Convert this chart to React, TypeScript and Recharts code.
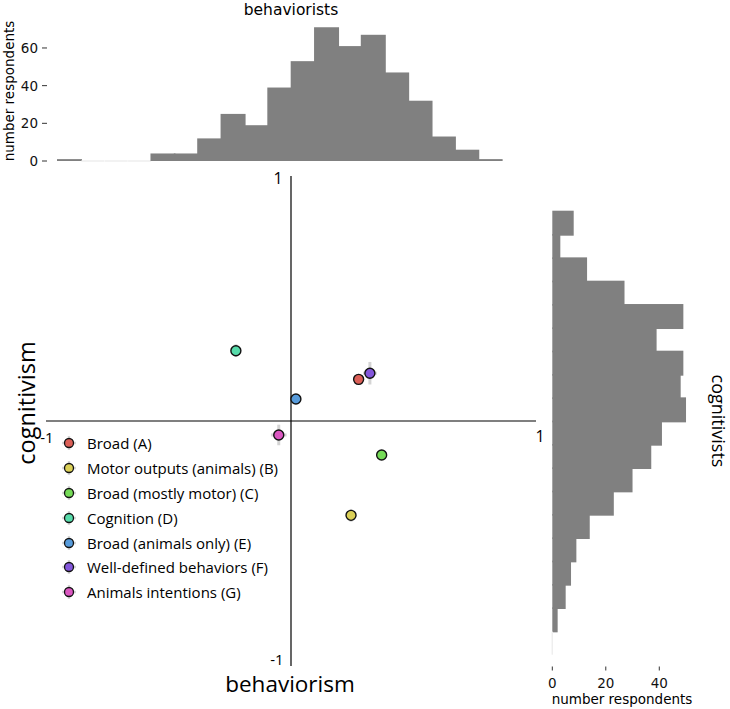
import React from "react";
import {
  BarChart,
  Bar,
  XAxis,
  YAxis,
  ScatterChart,
  Scatter,
  ErrorBar,
  ReferenceLine,
  Legend,
} from "recharts";

const W = 730;
const H = 709;

// histogram bins, centres on the -1..1 scale (left to right / top to bottom)
const behaviorBins = [
  "-0.90", "-0.81", "-0.71", "-0.62", "-0.52", "-0.43", "-0.33", "-0.24", "-0.14", "-0.05",
  "0.05", "0.14", "0.24", "0.33", "0.43", "0.52", "0.62", "0.71", "0.81",
];
const behaviorCounts = [1, 0, 0, 0, 4, 4, 12, 25, 19, 39, 53, 71, 61, 67, 47, 32, 13, 6, 1];

const cognitiveBins = [
  "0.81", "0.71", "0.62", "0.52", "0.43", "0.33", "0.24", "0.14", "0.05", "-0.05",
  "-0.14", "-0.24", "-0.33", "-0.43", "-0.52", "-0.62", "-0.71", "-0.81", "-0.90",
];
const cognitiveCounts = [8, 3, 13, 27, 49, 39, 49, 48, 50, 41, 37, 30, 23, 14, 9, 7, 5, 2, 0];

const histTicksTop = [0, 20, 40, 60];
const histTicksRight = [0, 20, 40];

// definition groups
const groupNames = [
  "Broad (A)",
  "Motor outputs (animals) (B)",
  "Broad (mostly motor) (C)",
  "Cognition (D)",
  "Broad (animals only) (E)",
  "Well-defined behaviors (F)",
  "Animals intentions (G)",
];
const groupColors = ["#db5f57", "#dbd057", "#75db57", "#57dbaa", "#579bdb", "#8457db", "#db57c1"];
const groupX = [0.276, 0.245, 0.37, -0.225, 0.02, 0.322, -0.05];
const groupY = [0.17, -0.385, -0.139, 0.287, 0.09, 0.195, -0.057];
const groupXErr = [0.01, 0.015, 0.01, 0.015, 0.012, 0.028, 0.032];
const groupYErr = [0.012, 0.026, 0.01, 0.026, 0.012, 0.046, 0.042];

const behaviorData = behaviorBins.map((bin, i) => ({ bin, count: behaviorCounts[i] }));
const cognitiveData = cognitiveBins.map((bin, i) => ({ bin, count: cognitiveCounts[i] }));
const groups = groupNames.map((name, i) => ({
  name,
  color: groupColors[i],
  data: [{ x: groupX[i], y: groupY[i], xErr: groupXErr[i], yErr: groupYErr[i] }],
}));

const MPL = "'DejaVu Sans', sans-serif";
const SANS = "'Open Sans', 'Noto Sans', sans-serif";

// histogram bin; recharts rounds bar sizes down, so stretch a little along the
// bin axis to let neighbouring bins merge into one silhouette
function HistRect(props: any) {
  const { x, y, width, height, sideways } = props;
  if (!width || !height || width <= 0 || height <= 0) {
    return (
      <line
        x1={x}
        y1={y}
        x2={x + (width || 0)}
        y2={y + (height || 0)}
        stroke="#eeeeee"
        strokeWidth={1.5}
      />
    );
  }
  if (sideways) {
    return <rect x={x} y={y - 1} width={width} height={height + 2} fill="#808080" />;
  }
  return <rect x={x - 1} y={y} width={width + 2} height={height} fill="#808080" />;
}

function TopTick(props: any) {
  const { y, payload } = props;
  return (
    <g>
      <line x1={42} x2={47} y1={y} y2={y} stroke="#333" strokeWidth={1} />
      <text
        x={38}
        y={y}
        textAnchor="end"
        dominantBaseline="central"
        fontFamily={MPL}
        fontSize={13.5}
        fill="#111"
      >
        {payload.value}
      </text>
    </g>
  );
}

function RightTick(props: any) {
  const { x, payload } = props;
  return (
    <g>
      <line x1={x} x2={x} y1={666.5} y2={670.5} stroke="#333" strokeWidth={1} />
      <text
        x={x}
        y={683}
        textAnchor="middle"
        dominantBaseline="central"
        fontFamily={MPL}
        fontSize={13.5}
        fill="#111"
      >
        {payload.value}
      </text>
    </g>
  );
}

function GroupDot(props: any) {
  const { cx, cy, fill } = props;
  return <circle cx={cx} cy={cy} r={5} fill={fill} stroke="#111" strokeWidth={1.4} />;
}

function LegendBox() {
  return (
    <div style={{ fontFamily: SANS, fontSize: 15, color: "#000" }}>
      {groups.map((g) => (
        <div
          key={g.name}
          style={{ height: 24.8, display: "flex", alignItems: "center", whiteSpace: "nowrap" }}
        >
          <svg width={28} height={20} style={{ flexShrink: 0 }}>
            <line x1={7} x2={21} y1={10} y2={10} stroke="#d8d8d8" strokeWidth={2.5} />
            <line x1={14} x2={14} y1={3} y2={17} stroke="#d8d8d8" strokeWidth={2.5} />
            <circle cx={14} cy={10} r={4.5} fill={g.color} stroke="#111" strokeWidth={1.3} />
          </svg>
          <span style={{ marginLeft: 4 }}>{g.name}</span>
        </div>
      ))}
    </div>
  );
}

const layer: React.CSSProperties = { position: "absolute", left: 0, top: 0 };

export default function App() {
  return (
    <div
      style={{
        position: "absolute",
        left: 0,
        top: 0,
        width: W,
        height: H,
        background: "#fff",
        overflow: "hidden",
      }}
    >
      {/* behaviorists histogram */}
      <div style={layer}>
        <BarChart
          width={W}
          height={H}
          data={behaviorData}
          margin={{ top: 21.6, right: 228, bottom: 548, left: 8 }}
          barCategoryGap={0}
        >
          <XAxis dataKey="bin" hide />
          <YAxis
            type="number"
            width={50}
            domain={[0, 74]}
            ticks={histTicksTop}
            axisLine={false}
            tickLine={false}
            tick={TopTick}
          />
          <Bar
            dataKey="count"
            isAnimationActive={false}
            shape={(p: any) => <HistRect {...p} sideways={false} />}
          />
        </BarChart>
      </div>

      {/* cognitivists histogram */}
      <div style={layer}>
        <BarChart
          layout="vertical"
          width={W}
          height={H}
          data={cognitiveData}
          margin={{ top: 211.7, right: 30.6, bottom: 24, left: 552.3 }}
          barCategoryGap={0}
        >
          <YAxis type="category" dataKey="bin" hide />
          <XAxis
            type="number"
            domain={[0, 55]}
            ticks={histTicksRight}
            height={30}
            axisLine={false}
            tickLine={false}
            tick={RightTick}
          />
          <Bar
            dataKey="count"
            isAnimationActive={false}
            shape={(p: any) => <HistRect {...p} sideways={true} />}
          />
        </BarChart>
      </div>

      {/* main scatter */}
      <div style={layer}>
        <ScatterChart
          width={W}
          height={H}
          margin={{ top: 176, right: 194, bottom: 43, left: 46 }}
        >
          <XAxis type="number" dataKey="x" domain={[-1, 1]} hide />
          <YAxis type="number" dataKey="y" domain={[-1, 1]} hide />
          <ReferenceLine x={0} stroke="#000" strokeWidth={1.2} />
          <ReferenceLine y={0} stroke="#000" strokeWidth={1.2} />
          {groups.map((g) => (
            <Scatter
              key={g.name}
              name={g.name}
              data={g.data}
              fill={g.color}
              shape={GroupDot}
              isAnimationActive={false}
            >
              <ErrorBar dataKey="xErr" direction="x" width={0} stroke="#d4d4d4" strokeWidth={3} />
              <ErrorBar dataKey="yErr" direction="y" width={0} stroke="#d4d4d4" strokeWidth={3} />
            </Scatter>
          ))}
          <Legend
            layout="horizontal"
            verticalAlign="middle"
            align="center"
            content={LegendBox}
            wrapperStyle={{ left: 55, top: 431, width: 300, height: 175 }}
          />
        </ScatterChart>
      </div>

      {/* titles and axis labels */}
      <svg width={W} height={H} style={{ ...layer, pointerEvents: "none" }}>
        <text x={291} y={15} textAnchor="middle" fontFamily={MPL} fontSize={15.5} fill="#000">
          behaviorists
        </text>
        <text
          transform="translate(9,91) rotate(-90)"
          textAnchor="middle"
          dominantBaseline="central"
          fontFamily={MPL}
          fontSize={13.5}
          fill="#000"
        >
          number respondents
        </text>
        <text x={278} y={178} textAnchor="middle" dominantBaseline="central" fontFamily={SANS} fontSize={16} fill="#000">
          1
        </text>
        <text x={277} y={659} textAnchor="middle" dominantBaseline="central" fontFamily={SANS} fontSize={15} fill="#000">
          -1
        </text>
        <text x={47} y={437} textAnchor="middle" dominantBaseline="central" fontFamily={SANS} fontSize={15} fill="#000">
          -1
        </text>
        <text x={540} y={436} textAnchor="middle" dominantBaseline="central" fontFamily={SANS} fontSize={16} fill="#000">
          1
        </text>
        <text x={290} y={692} textAnchor="middle" fontFamily={SANS} fontSize={22.5} fill="#000">
          behaviorism
        </text>
        <text
          transform="translate(26,403) rotate(-90)"
          textAnchor="middle"
          dominantBaseline="central"
          fontFamily={SANS}
          fontSize={23.5}
          fill="#000"
        >
          cognitivism
        </text>
        <text
          transform="translate(719,421) rotate(90)"
          textAnchor="middle"
          dominantBaseline="central"
          fontFamily={SANS}
          fontSize={18}
          fill="#000"
        >
          cognitivists
        </text>
        <text x={622} y={699} textAnchor="middle" dominantBaseline="central" fontFamily={MPL} fontSize={13.5} fill="#000">
          number respondents
        </text>
      </svg>
    </div>
  );
}
